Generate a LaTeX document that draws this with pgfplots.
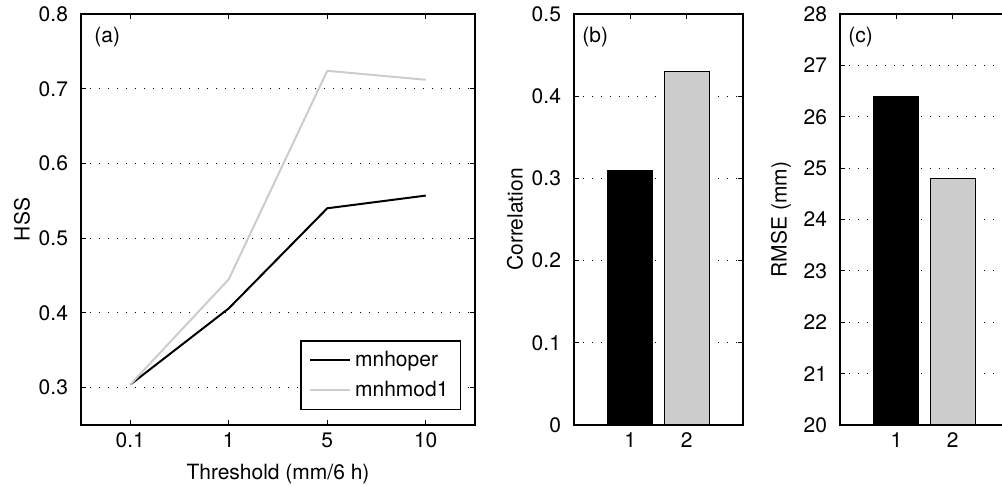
\documentclass[border=0pt]{standalone}
\usepackage{fontspec}
\setmainfont{TeX Gyre Heros}
\usepackage{pgfplots}
\pgfplotsset{compat=1.18}
\definecolor{lgray}{gray}{0.8}

\pgfplotsset{
  matlab/.style={
    scale only axis, height=205.5pt, anchor=south west,
    tick align=inside, major tick length=2.5pt,
    axis line style={line width=0.7pt},
    every tick/.style={black, line width=0.5pt},
    ymajorgrids,
    grid style={black, line width=0.5pt, dash pattern=on 0.5pt off 4pt},
    font=\fontsize{10.5}{12}\selectfont,
    /pgf/number format/assume math mode=true,
    xticklabel style={anchor=base, yshift=-11.5pt},
    yticklabel style={anchor=east, xshift=-3pt},
    xlabel style={at={(axis description cs:0.5,0)}, anchor=base, yshift=-27.5pt},
    ylabel style={at={([xshift=-29.5pt]axis description cs:0,0.5)}, anchor=center},
    clip=true,
  },
}
\tikzset{tag/.style={font=\fontsize{10.5}{12}\selectfont, anchor=north west, inner sep=0pt}}

\begin{document}
\begin{tikzpicture}
% (a) HSS against threshold
\begin{axis}[matlab, at={(40.5pt,30.5pt)}, width=197pt,
  xmin=0.5, xmax=4.5, ymin=0.25, ymax=0.8,
  xtick={1,2,3,4}, xticklabels={0.1,1,5,10},
  ytick={0.3,0.4,0.5,0.6,0.7,0.8},
  yticklabel style={/pgf/number format/.cd, fixed, precision=1},
  xlabel={Threshold (mm/6 h)}, ylabel={HSS},
  legend style={at={(0.965,0.036)}, anchor=south east, draw=black,
    line width=0.7pt, font=\fontsize{10.5}{12}\selectfont,
    inner xsep=4pt, inner ysep=3pt, row sep=2pt},
  legend image code/.code={\draw[#1] (0pt,0pt) -- (20pt,0pt);},
  legend cell align=left,
]
\addplot[black, line width=1pt] coordinates {(1,0.304) (2,0.406) (3,0.540) (4,0.557)};
\addlegendentry{mnhoper}
\addplot[lgray, line width=1pt] coordinates {(1,0.304) (2,0.445) (3,0.724) (4,0.712)};
\addlegendentry{mnhmod1}
\node[tag] at ([xshift=6.5pt,yshift=-6.5pt]rel axis cs:0,1) {(a)};
\end{axis}

% (b) correlation
\begin{axis}[matlab, at={(287pt,30.5pt)}, width=84.5pt,
  xmin=0, xmax=3, ymin=0, ymax=0.5,
  xtick={1,2}, ytick={0,0.1,0.2,0.3,0.4,0.5},
  yticklabel style={/pgf/number format/.cd, fixed, precision=1},
  ylabel={Correlation},
]
\addplot[ybar, bar width=0.8, bar shift=0pt, fill=black, draw=black, line width=0.5pt] coordinates {(1,0.31)};
\addplot[ybar, bar width=0.8, bar shift=0pt, fill=lgray, draw=black, line width=0.5pt] coordinates {(2,0.43)};
\node[tag] at ([xshift=4pt,yshift=-6.5pt]rel axis cs:0,1) {(b)};
\end{axis}

% (c) RMSE
\begin{axis}[matlab, at={(420pt,30.5pt)}, width=84.5pt,
  xmin=0, xmax=3, ymin=20, ymax=28,
  xtick={1,2}, ytick={20,21,...,28},
  ylabel={RMSE (mm)},
]
\addplot[ybar, bar width=0.8, bar shift=0pt, fill=black, draw=black, line width=0.5pt] coordinates {(1,26.4)};
\addplot[ybar, bar width=0.8, bar shift=0pt, fill=lgray, draw=black, line width=0.5pt] coordinates {(2,24.8)};
\node[tag] at ([xshift=4pt,yshift=-6.5pt]rel axis cs:0,1) {(c)};
\end{axis}

\pgfresetboundingbox
\path[use as bounding box] (0,0) rectangle (501pt,243pt);
\end{tikzpicture}
\end{document}
